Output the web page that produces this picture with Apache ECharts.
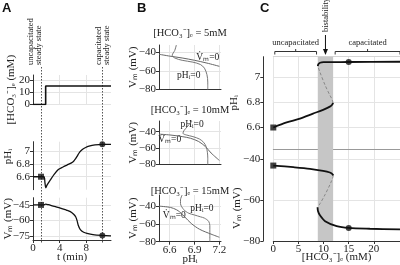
<!DOCTYPE html>
<html><head><meta charset="utf-8">
<script src="https://cdn.jsdelivr.net/npm/echarts@6/dist/echarts.min.js"></script>
<style>html,body{margin:0;padding:0;background:#fff}#c{width:400px;height:265px}</style>
</head><body><div id="c"></div>
<script>
// ---------- Panel A: time courses ----------
const aStateTimes = [1.2, 10.4];               // uncapacitated / capacitated steady state (min)
const aHco3 = [[0,0],[1.9,0],[1.9,15],[11.7,15]];
const aPH = [[0,6.6],[1.2,6.6],[1.65,6.6],[1.8,6.5],[1.92,6.43],[2.1,6.47],[2.6,6.55],[3.2,6.64],[3.8,6.71],[4.5,6.75],[5.1,6.78],[5.7,6.81],[6.1,6.84],[6.4,6.88],[6.7,6.93],[7.0,6.98],[7.4,7.02],[7.9,7.05],[8.4,7.07],[9.3,7.09],[10.4,7.1],[11.7,7.1]];
const aVm = [[0,-45],[1.2,-45],[1.6,-45],[1.9,-44.2],[2.3,-44.8],[3.2,-46.5],[4.1,-48],[5.0,-50],[5.6,-51.5],[6.1,-54],[6.4,-56.5],[6.6,-60],[6.8,-65],[7.1,-69],[7.6,-71.5],[8.1,-72.6],[9.0,-73.8],[10.4,-74.6],[11.7,-75]];
const aPHStates = [[1.2,6.6],[10.4,7.1]];
const aVmStates = [[1.2,-45],[10.4,-74.6]];
const aTimeTicks = [0,4,8];
const aHco3Ticks = [0,10,20];
const aPHTicks = [6.6,6.8,7];
const aVmTicks = [-75,-60,-45];

// ---------- Panel B: nullclines ----------
const bTitles = ['[HCO\u2083\u207B]\u2091 = 5mM','[HCO\u2083\u207B]\u2091 = 10mM','[HCO\u2083\u207B]\u2091 = 15mM'];
const bVmNull = [
  [[6.47,-42],[6.6,-44],[6.75,-46],[6.9,-48.5],[7.05,-51.5],[7.2,-55]],
  [[6.47,-43],[6.6,-44],[6.75,-46],[6.85,-48],[6.95,-52],[7.03,-58],[7.1,-66],[7.2,-75]],
  [[6.47,-40],[6.61,-41.5],[6.68,-44],[6.72,-46.5],[6.78,-52],[6.86,-59.5],[6.96,-66],[7.1,-71.5],[7.2,-75]]
];
const bPHNull = [
  [[6.68,-32],[6.66,-38],[6.63,-43],[6.66,-46],[6.75,-48.5],[6.88,-50.5],[6.97,-53],[7.02,-57],[7.05,-64],[7.06,-72],[7.06,-80]],
  [[6.87,-27],[6.82,-33],[6.77,-39],[6.76,-42],[6.8,-44],[6.88,-46],[6.96,-49],[7.01,-53],[7.04,-58],[7.055,-65],[7.06,-72],[7.06,-80]],
  [[6.75,-27.5],[6.73,-33],[6.73,-37],[6.77,-44],[6.83,-48],[6.9,-50],[6.97,-52],[7.02,-53.5],[7.07,-57],[7.085,-62],[7.085,-70],[7.085,-80]]
];
const bNullLabels = [
  [[7.06,-45,'V\u0307\u2098=0'],[6.83,-64.5,'pH\u1D62=0']],
  [[6.87,-31.8,'pH\u1D62=0'],[6.6,-50,'V\u0307\u2098=0']],
  [[6.99,-42.2,'pH\u1D62=0'],[6.655,-50,'V\u0307\u2098=0']]
];
const bPHTicks = [6.6,6.9,7.2];
const bVmTicks = [-80,-60,-40];

// ---------- Panel C: bifurcation diagram ----------
const cBistable = [8.85, 11.9];
const cPHLow  = [[0,6.6],[2.66,6.64],[5.3,6.67],[7.9,6.71],[9.9,6.74],[11.25,6.765],[11.7,6.78],[11.9,6.795]];
const cPHMid  = [[11.9,6.795],[11.6,6.83],[11.25,6.855],[10.3,6.935],[9.3,7.035],[8.85,7.085]];
const cPHHigh = [[8.85,7.085],[8.95,7.1],[9.3,7.112],[10,7.117],[15,7.118],[25.2,7.12]];
const cVmHigh = [[0,-43.1],[4,-43.9],[7.3,-44.7],[9.9,-45.7],[11.25,-46.5],[11.7,-47.2],[11.95,-48]];
const cVmMid  = [[11.95,-48],[11.6,-50.5],[11.25,-52.5],[10.3,-57.3],[9.3,-61.7],[8.8,-63.5]];
const cVmLow  = [[8.8,-63.5],[8.9,-65.5],[9.25,-67.3],[10.3,-70.3],[12.6,-72.7],[15,-73.6],[19.2,-74],[25.2,-74.3]];
const cPHStates = [[0,6.6],[15,7.118]];
const cVmStates = [[0,-43.1],[15,-73.6]];
const cXTicks = [0,5,10,15,20];
const cPHTicks = [6.6,6.8,7];
const cVmTicks = [-80,-60,-40];
const cRegions = [{name:'uncapacitated', from:0.3, to:8.6}, {name:'capacitated', from:12.3, to:25.2}];

const FONT = 'Liberation Serif';
const AX = '#333';
const GRIDC = '#e4e4e4';
const mf = v => String(Math.round(v*100)/100).replace('-', '\u2212');

function xAxisDef(g, min, max, ticks, opt) {
  opt = opt || {};
  return {
    type:'value', gridIndex:g, min:min, max:max, position: opt.position || 'bottom',
    axisLine:{show:!!opt.line, onZero:false, lineStyle:{color: opt.lineColor || AX, width:1}},
    axisTick:{show:!!opt.labels, customValues:ticks, length:3, inside:false, lineStyle:{color:AX}},
    axisLabel:{show:!!opt.labels, customValues:ticks, formatter:mf, fontFamily:FONT, fontSize:11, color:'#222', margin:3},
    splitLine:{show:!opt.noSplit, lineStyle:{color:GRIDC, width:1}},
    name: opt.name || '', nameLocation:'middle', nameGap: opt.nameGap || 12, nameMoveOverlap:false,
    nameTextStyle:{fontFamily:FONT, fontSize:11, color:'#222'}
  };
}
function yAxisDef(g, min, max, ticks, name, nameGap, opt) {
  opt = opt || {};
  return {
    type:'value', gridIndex:g, min:min, max:max, offset: opt.offset || 0,
    axisLine:{show:true, onZero:false, lineStyle:{color:AX, width:1}},
    axisTick:{show:true, customValues:ticks, length:3, lineStyle:{color:AX}},
    axisLabel:{show:true, customValues:ticks, formatter:mf, fontFamily:FONT, fontSize:11, color:'#222', margin:3},
    splitLine:{show:true, lineStyle:{color:GRIDC, width:1}},
    name:name, nameLocation:'middle', nameRotate:90, nameGap:nameGap, nameMoveOverlap:false,
    nameTextStyle:{fontFamily:FONT, fontSize:11, color:'#222'}
  };
}

const grids = [
  {left:33, top:75, width:78, height:29.5},
  {left:33, top:141.7, width:78, height:48},
  {left:33, top:197.7, width:78, height:42.3},
  {left:159, top:45, width:62, height:44.5},
  {left:159, top:121, width:62, height:43.5},
  {left:159, top:195, width:62, height:46.7},
  {left:273.3, top:56.7, width:126.7, height:92.3},
  {left:273.3, top:149, width:126.7, height:92}
].map(g => Object.assign({outerBoundsMode:'none', containLabel:false}, g));

const xAxes = [
  xAxisDef(0, 0, 11.7, aTimeTicks),
  xAxisDef(1, 0, 11.7, aTimeTicks),
  xAxisDef(2, 0, 11.7, aTimeTicks, {line:true, labels:true, name:'t (min)', nameGap:12}),
  xAxisDef(3, 6.47, 7.22, bPHTicks, {line:true}),
  xAxisDef(4, 6.47, 7.22, bPHTicks, {line:true}),
  xAxisDef(5, 6.47, 7.22, bPHTicks, {line:true, labels:true, name:'pH\u1D62', nameGap:12}),
  xAxisDef(6, 0, 25.2, cXTicks, {line:true, lineColor:'#999'}),
  xAxisDef(7, 0, 25.2, cXTicks, {line:true, labels:true, name:'[HCO\u2083\u207B]\u2091 (mM)', nameGap:11}),
  xAxisDef(6, 0, 25.2, cXTicks, {line:true, lineColor:'#d6d6d6', position:'top', noSplit:true})
];
const yAxes = [
  yAxisDef(0, 0, 24, aHco3Ticks, '[HCO\u2083\u207B]\u2091 (mM)', 16),
  yAxisDef(1, 6.4, 7.14, aPHTicks, '', 20),
  yAxisDef(2, -79, -38, aVmTicks, 'V\u2098 (mV)', 19),
  yAxisDef(3, -80, -32, bVmTicks, 'V\u2098 (mV)', 20),
  yAxisDef(4, -80, -27, bVmTicks, 'V\u2098 (mV)', 20),
  yAxisDef(5, -80, -27.5, bVmTicks, 'V\u2098 (mV)', 20),
  yAxisDef(6, 6.43, 7.16, cPHTicks, 'pH\u1D62', 24, {offset:10}),
  yAxisDef(7, -80, -35, cVmTicks, '', 28, {offset:10})
];

function line(i, data, o) {
  o = o || {};
  return {type:'line', xAxisIndex:i, yAxisIndex:i, data:data, showSymbol:false, symbol:'none',
    smooth: o.smooth === undefined ? 0.3 : o.smooth,
    lineStyle:{color:o.color || '#111', width:o.width || 1.5, type:o.type || 'solid'}, z:o.z || 3,
    markArea:o.markArea, silent:true, animation:false};
}
function pts(i, data, sym) {
  return {type:'scatter', xAxisIndex:i, yAxisIndex:i, data:data, symbol:sym, symbolSize:6,
    itemStyle:{color:'#111'}, z:5, silent:true, animation:false};
}
const band = {silent:true, itemStyle:{color:'#c6c6c6'}, data:[[{xAxis:cBistable[0]},{xAxis:cBistable[1]}]]};

const series = [
  line(0, aHco3, {smooth:false, width:1.6}),
  line(1, aPH, {width:1.3}),
  pts(1, [aPHStates[0]], 'rect'), pts(1, [aPHStates[1]], 'circle'),
  line(2, aVm, {width:1.3}),
  pts(2, [aVmStates[0]], 'rect'), pts(2, [aVmStates[1]], 'circle')
];
for (let k = 0; k < 3; k++) {
  series.push(line(3+k, bVmNull[k], {color:'#666', width:1}));
  series.push(line(3+k, bPHNull[k], {color:'#777', width:1}));
}
series.push(line(6, cPHLow, {width:1.8, markArea:band}));
series.push(line(6, cPHMid, {color:'#888', width:1, type:[3,2]}));
series.push(line(6, cPHHigh, {width:1.8}));
series.push(pts(6, [cPHStates[0]], 'rect'), pts(6, [cPHStates[1]], 'circle'));
series.push(line(7, cVmHigh, {width:1.8, markArea:band}));
series.push(line(7, cVmMid, {color:'#888', width:1, type:[3,2]}));
series.push(line(7, cVmLow, {width:1.8}));
series.push(pts(7, [cVmStates[0]], 'rect'), pts(7, [cVmStates[1]], 'circle'));

const chart = echarts.init(document.getElementById('c'), null, {renderer:'canvas'});
chart.setOption({animation:false, backgroundColor:'#fff', grid:grids, xAxis:xAxes, yAxis:yAxes, series:series});

// ----- annotations positioned from data coordinates -----
const P = (axisIdx, pt) => chart.convertToPixel({xAxisIndex:axisIdx, yAxisIndex:axisIdx}, pt);
const g = [];
const txt = (x, y, s, o) => Object.assign({type:'text', x:x, y:y, silent:true,
  style:Object.assign({text:s, fontFamily:FONT, fontSize:11, fill:'#222', textAlign:'center', textVerticalAlign:'middle'}, o || {})});
const vtxt = (x, y, s, o) => ({type:'text', x:x, y:y, rotation:Math.PI/2, silent:true,
  style:Object.assign({text:s, fontFamily:FONT, fontSize:11, fill:'#222', textAlign:'center', textVerticalAlign:'middle'}, o || {})});
// panel letters
[['A',2],['B',137],['C',260]].forEach(([s,x]) => g.push({type:'text', x:x, y:2, silent:true,
  style:{text:s, fontFamily:'Liberation Sans', fontWeight:'bold', fontSize:13, fill:'#111'}}));
// axis titles placed off-centre as in the original figure
g.push(vtxt(8, P(1,[0,6.91])[1], 'pH\u1D62'));
g.push(vtxt(237, P(7,[0,-64])[1], 'V\u2098 (mV)'));
// A: steady-state dotted lines and vertical labels
const aLabels = ['uncapacitated\nsteady state', 'capacitated\nsteady state'];
aStateTimes.forEach((t, k) => {
  const x = Math.round(P(2, [t, -45])[0]) + 0.5;
  g.push({type:'line', silent:true, shape:{x1:x, y1:67, x2:x, y2:244}, style:{stroke:'#555', lineWidth:1, lineDash:[1.5,1.5]}});
  g.push({type:'text', silent:true, x: k === 0 ? x - 7 : x, y:65, rotation:Math.PI/2,
    style:{text:aLabels[k], fontFamily:FONT, fontSize:8.5, lineHeight:8, fill:'#222', textAlign:'left', textVerticalAlign:'middle'}});
});
// B: titles and nullcline labels
const bTitleY = [33, 110, 191.5];
bTitles.forEach((s, k) => g.push(txt(190, bTitleY[k], s, {fontSize:10.5})));
bNullLabels.forEach((arr, k) => arr.forEach(([x,y,s]) => { const p = P(3+k,[x,y]); g.push(txt(p[0], p[1], s, {fontSize:9.5})); }));
// C: brackets
cRegions.forEach(r => {
  const x1 = P(6,[r.from,7])[0], x2 = P(6,[r.to,7])[0], xm = (x1+x2)/2, y = 51.5;
  g.push({type:'polyline', silent:true, shape:{points:[[x1,y+3],[x1,y],[x2,y],[x2,y+3]]}, style:{stroke:'#333', lineWidth:1, fill:null}});
  g.push({type:'line', silent:true, shape:{x1:xm, y1:y, x2:xm, y2:y-2.5}, style:{stroke:'#333', lineWidth:1}});
  g.push(txt(xm, 43, r.name, {fontSize:8.5}));
});
// C: bistability arrow
const xb = P(6, [(cBistable[0]+cBistable[1])/2, 7])[0];
g.push({type:'text', silent:true, x:xb, y:32, rotation:Math.PI/2,
  style:{text:'bistability', fontFamily:FONT, fontSize:8.5, fill:'#222', textAlign:'left', textVerticalAlign:'middle'}});
g.push({type:'line', silent:true, shape:{x1:xb, y1:35, x2:xb, y2:51}, style:{stroke:'#111', lineWidth:1}});
g.push({type:'polygon', silent:true, shape:{points:[[xb-2.5,49],[xb+2.5,49],[xb,55]]}, style:{fill:'#111'}});
chart.setOption({graphic:{elements:g}});
</script></body></html>
